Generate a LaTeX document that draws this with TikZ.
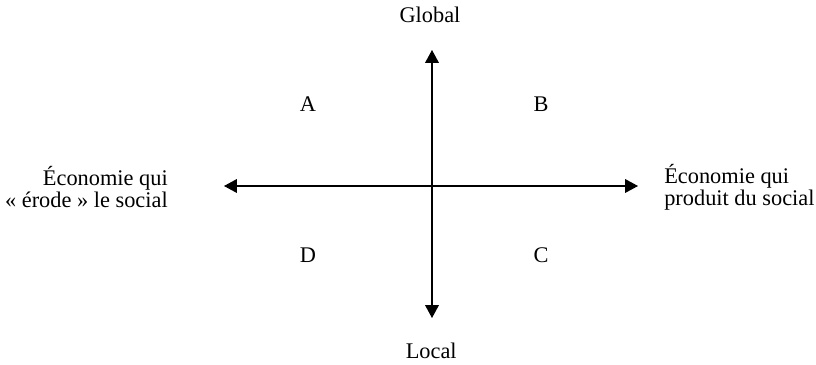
\documentclass[tikz,border=0pt]{standalone}
\usepackage{fontspec}
\setmainfont{Liberation Serif}
\usepackage{tikz}
\usetikzlibrary{arrows.meta}

\begin{document}
\begin{tikzpicture}[
  axis/.style={line width=0.8pt, {Triangle[length=0.32cm,width=0.34cm]}-{Triangle[length=0.32cm,width=0.34cm]}},
  lbl/.style={inner sep=0pt, font=\fontsize{15.9}{15.6}\selectfont},
  quad/.style={lbl, anchor=base}
]
\useasboundingbox (0,0) rectangle (20.4,-9.125);
% axes
\coordinate (top) at (10.8,-1.25);
\coordinate (bottom) at (10.8,-7.95);
\coordinate (left) at (5.6,-4.65);
\coordinate (right) at (15.95,-4.65);
\draw[axis] (top) -- (bottom);
\draw[axis] (left) -- (right);
% axis labels
\node[quad] (global) at (10.75,-0.575) {Global};
\node[quad] (local) at (10.78,-8.95) {Local};
\node[lbl, anchor=east, align=right] (erode) at (4.2,-4.68) {Économie qui\\« érode » le social};
\node[lbl, anchor=west, align=left] (produit) at (16.6,-4.68) {Économie qui\\produit du social};
% quadrants
\node[quad] (qa) at (7.7,-2.8) {A};
\node[quad] (qb) at (13.525,-2.8) {B};
\node[quad] (qc) at (13.525,-6.55) {C};
\node[quad] (qd) at (7.7,-6.55) {D};
\end{tikzpicture}
\end{document}
